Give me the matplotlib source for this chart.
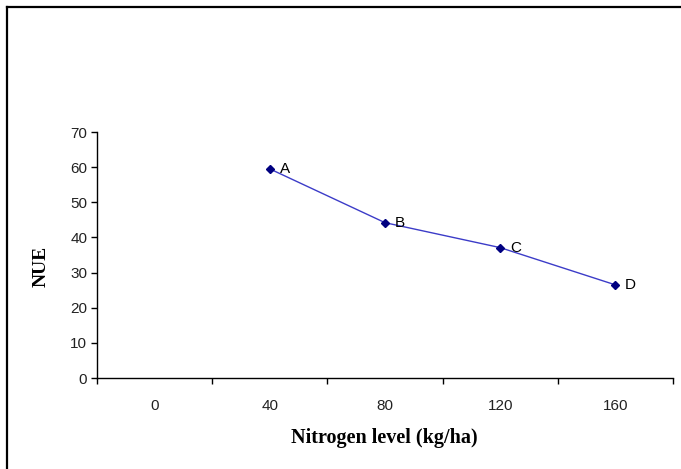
import matplotlib.pyplot as plt
from matplotlib.lines import Line2D

nitrogen = ['0', '40', '80', '120', '160']
nue = [59.5, 44.2, 37.1, 26.5]
point_labels = ['A', 'B', 'C', 'D']

fig = plt.figure(figsize=(6.81, 4.69), dpi=100)
ax = fig.add_axes([97/681, 1-378/469, 576/681, 246/469])

x = list(range(1, len(nue) + 1))
ax.plot(x, nue, color='#3c3cc8', lw=1.0, zorder=2)
ax.plot(x, nue, ls='none', marker='D', ms=4.5, color='#000080', zorder=3)
for xi, yi, lab in zip(x, nue, point_labels):
    ax.annotate(lab, (xi, yi), xytext=(7, 0), textcoords='offset points',
                va='center', ha='left', fontsize=11, family='Liberation Sans')

ax.set_xlim(-0.5, 4.5)
ax.set_ylim(0, 70)
ax.set_yticks(range(0, 80, 10))
ax.set_xticks(range(5))
ax.set_xticklabels(nitrogen)
ax.set_xticks([i - 0.5 for i in range(6)], minor=True)
ax.tick_params(axis='x', which='major', length=0, pad=15)
ax.tick_params(axis='x', which='minor', length=4, width=1, direction='out')
ax.tick_params(axis='y', length=4, width=1, direction='out', pad=3)
for t in ax.get_xticklabels() + ax.get_yticklabels():
    t.set_family('Liberation Sans')
    t.set_fontsize(11)
    t.set_color('#222222')

for s in ['top', 'right']:
    ax.spines[s].set_visible(False)
ax.spines['left'].set_linewidth(1)
ax.spines['bottom'].set_linewidth(1)

ax.set_xlabel('Nitrogen level (kg/ha)', family='Liberation Serif', fontweight='bold', fontsize=14.5)
ax.set_ylabel('NUE', family='Liberation Serif', fontweight='bold', fontsize=14)
ax.xaxis.set_label_coords(0.498, -0.205)
ax.yaxis.set_label_coords(-0.083, 0.455)

# outer chart border (left and top only visible)
fig.add_artist(Line2D([7/681, 7/681], [0, 1-7/469], color='black', lw=1.6, transform=fig.transFigure))
fig.add_artist(Line2D([7/681, 1], [1-7/469, 1-7/469], color='black', lw=1.6, transform=fig.transFigure))

fig.savefig('out.png', dpi=100)
